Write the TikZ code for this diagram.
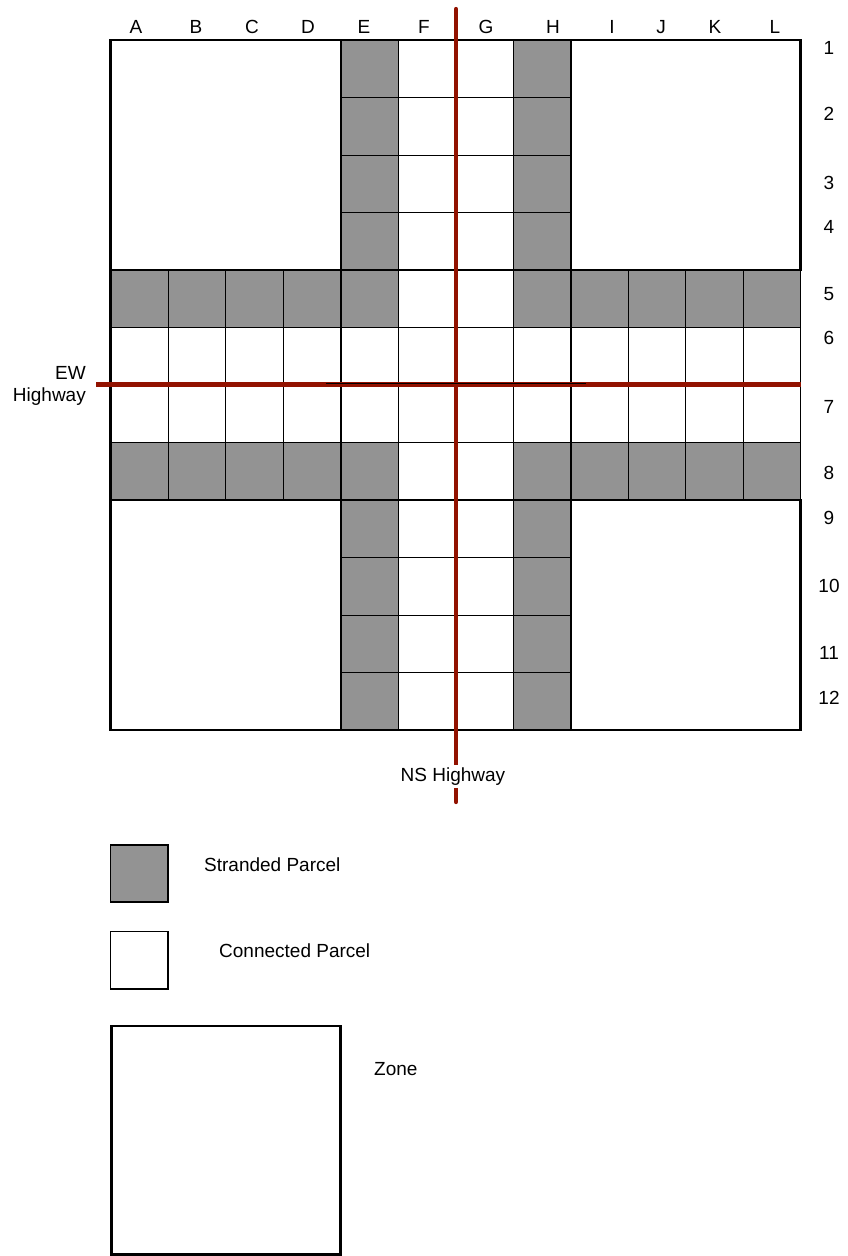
\documentclass[tikz,border=0pt]{standalone}
\usepackage{fontspec}
\setmainfont{Liberation Sans}
\definecolor{parcelgray}{HTML}{939393}
\definecolor{hwred}{HTML}{921200}
\begin{document}
\begin{tikzpicture}[x=1pt,y=-1pt,
  cell/.style={draw=black, line width=1},
  stranded/.style={cell, fill=parcelgray},
  connected/.style={cell, fill=white},
  zonebox/.style={draw=black, line width=2.2, fill=white},
  thickline/.style={draw=black, line width=2},
  hw/.style={draw=hwred, line width=4.2},
  lbl/.style={font=\fontsize{19}{22}\selectfont, inner sep=0pt, text=black}]
\useasboundingbox (0,0) rectangle (847,1256);
\fill[white] (0,0) rectangle (847,1256);
% vertical strip cells
\foreach \r in {1,2,3,4,9,10,11,12} {
  \foreach \c in {5,8}
    \draw[stranded] ({110.5+(\c-1)*57.5},{40+(\r-1)*57.5}) rectangle +(57.5,57.5);
  \foreach \c in {6,7}
    \draw[connected] ({110.5+(\c-1)*57.5},{40+(\r-1)*57.5}) rectangle +(57.5,57.5);
}
% horizontal strip cells
\foreach \r in {5,8} {
  \foreach \c in {1,2,3,4,5,8,9,10,11,12}
    \draw[stranded] ({110.5+(\c-1)*57.5},{40+(\r-1)*57.5}) rectangle +(57.5,57.5);
  \foreach \c in {6,7}
    \draw[connected] ({110.5+(\c-1)*57.5},{40+(\r-1)*57.5}) rectangle +(57.5,57.5);
}
\foreach \r in {6,7} {
  \foreach \c in {1,...,12}
    \draw[connected] ({110.5+(\c-1)*57.5},{40+(\r-1)*57.5}) rectangle +(57.5,57.5);
}
% zones
\draw[zonebox] (110.5,40) rectangle (341,270);
\draw[zonebox] (571,40) rectangle (800.5,270);
\draw[zonebox] (110.5,500) rectangle (341,730);
\draw[zonebox] (571,500) rectangle (800.5,730);
% thick block lines
\draw[thickline] (341,40) -- (341,730);
\draw[thickline] (571,40) -- (571,730);
\draw[thickline] (110.5,270) -- (800.5,270);
\draw[thickline] (110.5,500) -- (800.5,500);
% outer border
\draw[black, line width=1.3] (110.5,40) rectangle (800.5,730);
\draw[black, line width=2.5] (110.5,40) -- (110.5,730) -- (800.5,730);
% highways
\coordinate (nsTop) at (456,9);
\coordinate (nsBot) at (456,802);
\coordinate (ewL) at (96,384.5);
\coordinate (ewR) at (800.5,384.5);
\coordinate (blkL) at (326,383);
\coordinate (blkR) at (586,383);
\draw[hw, line cap=round] (nsTop) -- (nsBot);
\draw[hw] (ewL) -- (ewR);
\draw[black, line width=1] (blkL) -- (blkR);
% column labels
\foreach \l/\x in {A/136,B/196,C/252,D/308,E/364,F/424,G/486,H/553,I/612,J/661,K/715,L/775}
  \node[lbl, anchor=base] (col\l) at (\x,33.6) {\l};
% row labels
\foreach \n/\y in {1/54.6,2/120.6,3/189.6,4/233.6,5/300.6,6/344.6,7/413.6,8/479.6,9/524.6,10/592.6,11/659.6,12/704.6}
  \node[lbl, anchor=base] (row\n) at (829,\y) {\n};
% highway labels
\node[lbl, anchor=base east] (ewA) at (86,379.6) {EW};
\node[lbl, anchor=base east] (ewB) at (86,401) {Highway};
\node[lbl, anchor=base, fill=white, inner xsep=1pt, inner ysep=3pt] (nslbl) at (453,781.3) {NS Highway};
% legend
\draw[stranded, line width=1.2] (110.5,845) rectangle (168,902);
\node[lbl, anchor=base west] (legS) at (204,871.6) {Stranded Parcel};
\draw[connected, line width=1.2] (110.5,931.5) rectangle (168,989);
\node[lbl, anchor=base west] (legC) at (219,957) {Connected Parcel};
\draw[zonebox] (111.5,1026) rectangle (340.5,1254.5);
\node[lbl, anchor=base west] (legZ) at (374,1075) {Zone};
\end{tikzpicture}
\end{document}
